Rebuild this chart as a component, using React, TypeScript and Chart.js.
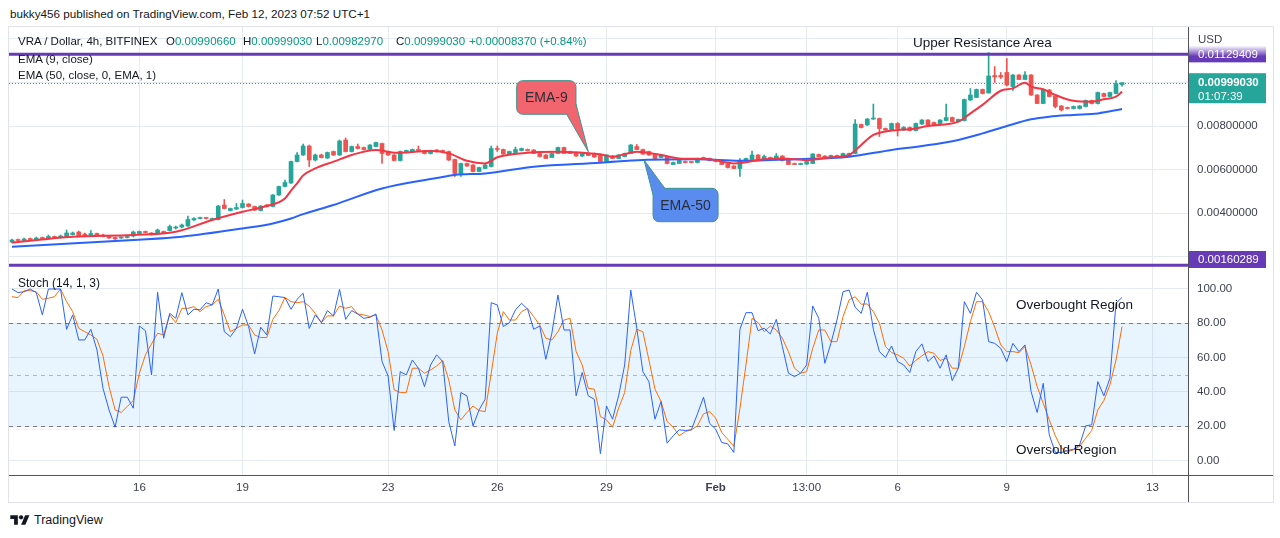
import React, { useEffect, useRef } from "react";
import { Chart, registerables } from "chart.js";
Chart.register(...registerables);

const FONT = "'Liberation Sans', Arial, Helvetica, sans-serif";
const TEXT = "#131722";
const AXIS_TEXT = "#3e4250";
const GRID = "#e6ebf1";
const UP = "#26a69a";
const DOWN = "#ef5350";
const PURPLE = "#673ab7";
const AXIS_LINE = "#50535e";

// ---- candle data (4h bars, index 0..183) ----
const openP = [
0.002666,0.002758,0.002735,0.002804,0.002781,0.002850,0.002827,0.002919,0.002873,0.002919,
0.003011,0.003126,0.003034,0.002988,0.003057,0.002988,0.002919,0.002873,0.002850,0.002873,
0.002942,0.003057,0.003126,0.003080,0.003057,0.003149,0.003195,0.003310,0.003356,0.003402,
0.003678,0.003747,0.003770,0.003701,0.003701,0.004367,0.004114,0.004183,0.004252,0.004413,
0.004298,0.004114,0.004367,0.004298,0.004827,0.005218,0.005379,0.006367,0.006666,0.007080,
0.006436,0.006666,0.006528,0.006827,0.006666,0.007356,0.006827,0.007057,0.007011,0.006919,
0.007057,0.007195,0.006827,0.006666,0.006413,0.006827,0.006827,0.006919,0.006873,0.006735,
0.006896,0.006850,0.006827,0.006459,0.005815,0.006275,0.006206,0.005907,0.006045,0.006137,
0.006942,0.006919,0.006712,0.006781,0.006873,0.006919,0.006896,0.006735,0.006666,0.006551,
0.006735,0.007011,0.006827,0.006781,0.006620,0.006735,0.006735,0.006666,0.006367,0.006620,
0.006505,0.006597,0.006735,0.007057,0.006919,0.006827,0.006712,0.006551,0.006597,0.006229,
0.006275,0.006367,0.006344,0.006321,0.006551,0.006505,0.006459,0.006413,0.006252,0.006160,
0.006045,0.006436,0.006459,0.006666,0.006505,0.006551,0.006505,0.006620,0.006436,0.006275,
0.006229,0.006252,0.006275,0.006689,0.006620,0.006551,0.006643,0.006597,0.006620,0.006735,
0.008069,0.008046,0.008321,0.008344,0.007885,0.007816,0.008115,0.007816,0.007931,0.007793,
0.008091,0.008275,0.008161,0.008115,0.008252,0.008390,0.008206,0.008252,0.009195,0.009310,
0.009678,0.009517,0.010322,0.010322,0.010460,0.009816,0.010345,0.010138,0.010345,0.009425,
0.009034,0.009655,0.009379,0.008919,0.008850,0.008804,0.008804,0.008896,0.009172,0.009034,
0.009494,0.009356,0.009494,0.0099066];

const highP = [
0.002804,0.002804,0.002850,0.002850,0.002896,0.002896,0.002988,0.002942,0.002988,0.003218,
0.003126,0.003172,0.003080,0.003195,0.003080,0.003034,0.002942,0.002896,0.002896,0.002942,
0.003172,0.003172,0.003172,0.003103,0.003264,0.003172,0.003448,0.003402,0.003494,0.003862,
0.003793,0.003816,0.003793,0.003770,0.004344,0.004620,0.004229,0.004436,0.004597,0.004436,
0.004321,0.004344,0.004390,0.004850,0.005241,0.005517,0.006390,0.006781,0.007172,0.007126,
0.006712,0.006712,0.006804,0.006850,0.007356,0.007448,0.007080,0.007172,0.007034,0.007149,
0.007264,0.007218,0.006850,0.006689,0.006850,0.006896,0.006942,0.007080,0.006873,0.006896,
0.006919,0.006896,0.006850,0.006482,0.006298,0.006298,0.006229,0.006114,0.006252,0.007080,
0.007080,0.006942,0.006850,0.007034,0.006988,0.006942,0.006919,0.006758,0.006689,0.006758,
0.007034,0.007034,0.006850,0.006804,0.006758,0.006758,0.006758,0.006689,0.006689,0.006643,
0.006689,0.006758,0.007149,0.007149,0.006942,0.006850,0.006735,0.006689,0.006620,0.006344,
0.006436,0.006390,0.006367,0.006528,0.006574,0.006528,0.006482,0.006413,0.006275,0.006183,
0.006505,0.006528,0.006850,0.006689,0.006666,0.006574,0.006735,0.006643,0.006459,0.006298,
0.006298,0.006390,0.006735,0.006712,0.006643,0.006666,0.006666,0.006758,0.006758,0.008298,
0.008091,0.008344,0.009011,0.008367,0.007908,0.008138,0.008161,0.007977,0.007954,0.008138,
0.008298,0.008298,0.008184,0.008298,0.009011,0.008413,0.008321,0.009241,0.009724,0.009701,
0.009701,0.011379,0.010735,0.010460,0.011103,0.010368,0.010368,0.010506,0.010368,0.009448,
0.009678,0.009678,0.009402,0.008942,0.008873,0.008919,0.008942,0.009195,0.009195,0.009563,
0.009517,0.009563,0.010092,0.0099903];

const lowP = [
0.002620,0.002712,0.002712,0.002758,0.002758,0.002804,0.002804,0.002850,0.002850,0.002896,
0.002988,0.002942,0.002919,0.002942,0.002965,0.002896,0.002827,0.002781,0.002827,0.002850,
0.002896,0.003034,0.003080,0.002988,0.003034,0.003057,0.003172,0.003264,0.003310,0.003379,
0.003655,0.003724,0.003724,0.003678,0.003678,0.004183,0.004091,0.004160,0.004229,0.004275,
0.004114,0.004091,0.004275,0.004275,0.004804,0.005195,0.005356,0.006344,0.006643,0.006137,
0.006390,0.006528,0.006505,0.006643,0.006643,0.006804,0.006804,0.006942,0.006896,0.006896,
0.007034,0.006275,0.006643,0.006390,0.006390,0.006781,0.006804,0.006850,0.006712,0.006712,
0.006804,0.006804,0.006413,0.005678,0.005678,0.006137,0.005884,0.005884,0.006045,0.006114,
0.006827,0.006689,0.006689,0.006758,0.006850,0.006850,0.006735,0.006574,0.006505,0.006551,
0.006735,0.006735,0.006735,0.006597,0.006597,0.006643,0.006551,0.006344,0.006344,0.006505,
0.006505,0.006574,0.006735,0.006919,0.006689,0.006643,0.006436,0.006551,0.006252,0.006229,
0.006275,0.006298,0.006298,0.006298,0.006459,0.006390,0.006344,0.006229,0.006068,0.006045,
0.005678,0.006413,0.006459,0.006459,0.006505,0.006459,0.006482,0.006390,0.006229,0.006229,
0.006229,0.006229,0.006275,0.006574,0.006505,0.006551,0.006574,0.006574,0.006597,0.006735,
0.007908,0.008023,0.008298,0.007517,0.007793,0.007793,0.007540,0.007793,0.007770,0.007770,
0.008069,0.008023,0.008023,0.008091,0.008229,0.008206,0.008183,0.008229,0.009172,0.009310,
0.009471,0.009517,0.010000,0.010184,0.009839,0.009632,0.010138,0.010138,0.009402,0.009034,
0.009034,0.009333,0.008827,0.008689,0.008781,0.008781,0.008781,0.008873,0.009011,0.009011,
0.009333,0.009333,0.009471,0.0098297];

const closeP = [
0.002758,0.002735,0.002804,0.002781,0.002850,0.002827,0.002919,0.002873,0.002942,0.003080,
0.003080,0.002965,0.002965,0.003057,0.002988,0.002919,0.002850,0.002804,0.002873,0.002919,
0.003126,0.003149,0.003103,0.003011,0.003218,0.003080,0.003379,0.003356,0.003448,0.003701,
0.003747,0.003770,0.003747,0.003747,0.004321,0.004206,0.004206,0.004252,0.004436,0.004298,
0.004137,0.004321,0.004298,0.004827,0.005218,0.005402,0.006367,0.006666,0.007080,0.006436,
0.006666,0.006551,0.006781,0.006666,0.007310,0.006827,0.007057,0.006965,0.006919,0.007126,
0.007241,0.006735,0.006666,0.006413,0.006827,0.006850,0.006919,0.006873,0.006735,0.006873,
0.006827,0.006827,0.006436,0.005815,0.006275,0.006160,0.005907,0.006091,0.006206,0.006965,
0.006919,0.006712,0.006827,0.006919,0.006965,0.006873,0.006735,0.006597,0.006505,0.006735,
0.007011,0.006735,0.006735,0.006620,0.006735,0.006643,0.006574,0.006367,0.006666,0.006505,
0.006666,0.006735,0.007126,0.006919,0.006712,0.006666,0.006505,0.006666,0.006275,0.006321,
0.006413,0.006321,0.006321,0.006505,0.006459,0.006413,0.006367,0.006229,0.006091,0.006045,
0.006413,0.006505,0.006666,0.006459,0.006597,0.006459,0.006620,0.006413,0.006229,0.006229,
0.006275,0.006367,0.006712,0.006597,0.006505,0.006643,0.006597,0.006735,0.006735,0.008092,
0.007931,0.008321,0.008344,0.007885,0.007816,0.008115,0.007885,0.007931,0.007793,0.008115,
0.008275,0.008046,0.008046,0.008275,0.008390,0.008206,0.008298,0.009218,0.009425,0.009678,
0.009494,0.010299,0.010253,0.010253,0.009885,0.010345,0.010138,0.010345,0.009425,0.009034,
0.009655,0.009356,0.008896,0.008735,0.008804,0.008896,0.008919,0.009172,0.009034,0.009540,
0.009356,0.009540,0.009954,0.0099903];

// ---- EMA readings (bar index -> value) ----
const ema9Idx = [0,10,20,27,33,38,42,45,46,47,48,50,53,56,60,63,69,72,75,78,80,85,90,97,99,103,107,110,115,119,124,127,131,135,138,140,142,146,148,151,156,158,160,163,165,167,168,170,172,175,178,180,182,183];
const ema9Val = [0.00264,0.00291,0.00299,0.00314,0.00368,0.00406,0.00432,0.00467,0.00503,0.00536,0.00573,0.00605,0.00636,0.00667,0.00690,0.00677,0.00685,0.00674,0.00640,0.00628,0.00656,0.00677,0.00682,0.00670,0.00659,0.00682,0.00667,0.00651,0.00647,0.00628,0.00647,0.00651,0.00644,0.00656,0.00667,0.00713,0.00759,0.00782,0.00785,0.00800,0.00820,0.00858,0.00897,0.00962,0.00973,0.00999,0.00981,0.00969,0.00943,0.00916,0.00912,0.00923,0.00935,0.00958];
const ema50Idx = [0,20,28,38,43,46,48,53,61,70,73,78,86,97,104,113,120,129,138,145,150,156,160,164,168,171,175,179,183];
const ema50Val = [0.00245,0.00276,0.00291,0.00329,0.00352,0.00375,0.00395,0.00437,0.00513,0.00561,0.00575,0.00582,0.00613,0.00631,0.00644,0.00647,0.00640,0.00647,0.00659,0.00690,0.00708,0.00736,0.00766,0.00800,0.00831,0.00843,0.00851,0.00858,0.00878];

// ---- Stochastic (14,1,3) ----
const stochK = [
100,97.9,98.4,100,97.9,84.9,100,100,100,76.5,
84.9,70.3,70.3,76.5,64.5,42.1,29.5,19.4,36.9,36.9,
30.5,78.4,75.7,49.9,98.1,71.3,85.8,82.9,97.9,84.9,
88.2,87.8,92,90.7,100,75.1,72.2,77.1,88.2,78.1,
62.1,77.7,73.2,95.9,95.5,95,88.2,94,97.5,77,
84.9,80.4,87.4,84.3,99.8,82.3,87.4,85.4,82.9,83.5,
85.4,57.7,49.3,17.5,51.8,49.9,58.6,53.8,43.1,55.7,
61.6,57.7,22.7,8.5,39.6,37.7,20.2,29.5,35.7,92,
90.7,78.1,80.4,87.8,91.7,88.2,76.5,78.4,59,74.2,
96.5,76.1,76.1,37.7,51.3,37.7,35.7,4,31.8,24.1,
37.7,55.7,99.4,77.1,51.8,46,24.1,34.4,10.1,14.4,
17.9,17.5,17.9,27.2,36.9,21.7,18.3,10.5,9.7,4.7,
76.5,86.2,86.2,75.7,77.1,73.8,82.3,66.4,50.9,48.9,
50.9,55.7,90.1,82.9,56.7,68.3,81.9,98.4,99.4,89.3,
85.8,98.1,76.5,63.5,60,66.8,57.7,55.7,51.3,63.5,
68,57.7,61,53.8,61.6,46.6,53.8,92.6,85.8,98.1,
93.6,69.3,68.3,65.4,57.7,68.3,63.5,67.4,40.2,28,
45,15,4.7,4.7,5.8,6.6,9.1,20.2,20.8,46,
37.7,48,91.7,95.1];
const stochD = [
95.5,95,99,99,98.4,94,94.6,95.5,100,92.6,
86.8,77.1,75.1,73.2,70.7,61,43.1,29.5,28,31.5,
35,50.9,61.6,68,74.2,73.2,84.9,80.4,88.7,88.7,
89.7,86.8,89.7,90.7,94,84.9,75.1,77.1,79,79,
73.2,71.7,71.7,82.3,87.4,95,92.6,92,92.6,90,
85.8,80.4,84.3,84.3,90.1,88.7,89.7,85.4,84.9,83.9,
84.9,76.1,63.5,41.2,39.6,39.6,53.8,53.8,50.9,52.8,
55.1,58.3,47,29.5,23.7,28,31.8,29.1,28.5,50.9,
74.2,86.8,81.9,81.9,86.8,88.7,83.9,79,71.3,70.3,
75.1,81.9,82.9,63.5,55.7,42.1,41.6,25.6,23.7,19.4,
30.5,39.6,64.1,76.5,75.1,58.6,41.6,34.4,22.7,19.4,
14.4,16.9,17.9,20.2,27.2,28.5,24.7,16.3,12.4,8.2,
30.3,55.8,82.9,80.4,75.1,78.4,76.1,71.3,63.5,53.8,
50.9,51.8,65.4,76.1,76.1,69.3,69.3,83.9,93.6,95.5,
91.1,91.3,86.8,80,66.4,62.9,61.6,59.6,55.1,58.3,
61,63.5,62.5,58.3,59.6,53.8,53.8,66.4,81,92.6,
92.6,86.8,77.7,67.4,63.5,63.5,62.9,66.4,55.7,43.1,
33.4,23.7,14.4,7.2,5.2,6.2,8.2,13,17.5,29.5,
35,44.1,58.6,78.1];

// ---- axes / ticks ----
const xTickIdx = [21, 38, 62, 80, 98, 116, 131, 146, 164, 188];
const xTickLabels = ["16", "19", "23", "26", "29", "Feb", "13:00", "6", "9", "13"];
const priceTicks = [0.002, 0.004, 0.006, 0.008, 0.01, 0.012];
const stochTicks = [0, 20, 40, 60, 80, 100];
const stochLevels = [20, 50, 80];
const resistanceLevel = 0.01129409;
const supportLevel = 0.00160289;
const lastClose = 0.0099903;
const countdown = "01:07:39";

// annotation anchors: [bar index, price]
const callouts = [
  { text: "EMA-9", idx: 95, price: 0.00682, fill: "#f2646e", box: [-71.6, -71, 59.3, 33.6], tail: [[-21.6, -37.4], [-12.3, -47.7]] },
  { text: "EMA-50", idx: 104.2, price: 0.006436, fill: "#5a8cf0", box: [9, 28.3, 65, 33.4], tail: [[9, 35], [20.7, 28.3]] },
];

const X_MIN = -0.495, X_MAX = 193.87;
const P_MIN = 0.0014713, P_MAX = 0.0125517;
const S_MIN = -8.45, S_MAX = 112.24;

const zeroPad = (s: any) => { s.paddingTop = 0; s.paddingBottom = 0; s.paddingLeft = 0; s.paddingRight = 0; };

function drawCallout(ctx: CanvasRenderingContext2D, tx: number, ty: number, c: any) {
  const [bx, by, bw, bh] = c.box;
  const L = tx + bx, T = ty + by;
  ctx.lineWidth = 1;
  ctx.strokeStyle = "#3a948f";
  ctx.fillStyle = c.fill;
  ctx.beginPath();
  (ctx as any).roundRect(L, T, bw, bh, 6);
  ctx.fill();
  ctx.stroke();
  const [[p1x, p1y], [p2x, p2y]] = c.tail;
  ctx.beginPath();
  ctx.moveTo(tx + p1x, ty + p1y);
  ctx.lineTo(tx, ty);
  ctx.lineTo(tx + p2x, ty + p2y);
  ctx.closePath();
  ctx.fill();
  ctx.beginPath();
  ctx.moveTo(tx + p1x, ty + p1y);
  ctx.lineTo(tx, ty);
  ctx.lineTo(tx + p2x, ty + p2y);
  ctx.stroke();
  ctx.fillStyle = "#2a2e39";
  ctx.font = `14px ${FONT}`;
  ctx.textAlign = "center";
  ctx.textBaseline = "middle";
  ctx.fillText(c.text, L + bw / 2, T + bh / 2 + 1);
}

const priceOverlay = {
  id: "priceOverlay",
  beforeDatasetsDraw(chart: any) {
    const { ctx, chartArea: a, scales } = chart;
    const yc = Math.round(scales.y.getPixelForValue(lastClose)) + 0.5;
    ctx.save();
    ctx.strokeStyle = UP;
    ctx.lineWidth = 1;
    ctx.setLineDash([1, 2]);
    ctx.beginPath();
    ctx.moveTo(a.left, yc);
    ctx.lineTo(a.right, yc);
    ctx.stroke();
    ctx.restore();
  },
  afterDatasetsDraw(chart: any) {
    const { ctx, chartArea: a, scales } = chart;
    const { x, y } = scales;
    ctx.save();
    for (const lv of [resistanceLevel, supportLevel]) {
      const py = y.getPixelForValue(lv);
      ctx.strokeStyle = PURPLE;
      ctx.lineWidth = 3;
      ctx.beginPath();
      ctx.moveTo(a.left, py);
      ctx.lineTo(a.right, py);
      ctx.stroke();
    }
    for (const c of callouts) drawCallout(ctx, x.getPixelForValue(c.idx), y.getPixelForValue(c.price), c);
    ctx.restore();
  },
  afterDraw(chart: any) {
    const { ctx, chartArea: a, scales } = chart;
    const y = scales.y;
    const ax = a.right + 1;
    const bw = 77;
    const tx = a.right + 10;
    ctx.save();
    ctx.textAlign = "left";
    ctx.textBaseline = "middle";
    // resistance label (partly faded under the "USD" caption)
    const pr = y.getPixelForValue(resistanceLevel);
    ctx.fillStyle = PURPLE;
    ctx.fillRect(ax, pr - 8, bw, 16);
    ctx.fillStyle = "#ffffff";
    ctx.font = `11.5px ${FONT}`;
    ctx.fillText(resistanceLevel.toFixed(8), tx, pr);
    const g = ctx.createLinearGradient(0, pr - 12, 0, pr + 2);
    g.addColorStop(0, "rgba(255,255,255,1)");
    g.addColorStop(0.35, "rgba(255,255,255,0.85)");
    g.addColorStop(1, "rgba(255,255,255,0)");
    ctx.fillStyle = g;
    ctx.fillRect(ax, pr - 12, bw, 14);
    ctx.fillStyle = AXIS_TEXT;
    ctx.fillText("USD", tx, a.top + 13);
    // last price label
    const pc = y.getPixelForValue(lastClose);
    ctx.fillStyle = UP;
    ctx.fillRect(ax, pc - 9.5, bw, 30);
    ctx.fillStyle = "#ffffff";
    ctx.font = `bold 11.5px ${FONT}`;
    ctx.fillText(lastClose.toFixed(8), tx, pc);
    ctx.font = `11.5px ${FONT}`;
    ctx.fillText(countdown, tx, pc + 14);
    // support label
    const ps = y.getPixelForValue(supportLevel);
    const top = Math.min(ps - 8.5, a.bottom - 17);
    ctx.fillStyle = PURPLE;
    ctx.fillRect(ax, top, bw, 17);
    ctx.fillStyle = "#ffffff";
    ctx.fillText(supportLevel.toFixed(8), tx, top + 8.5);
    ctx.restore();
  },
};

const stochOverlay = {
  id: "stochOverlay",
  beforeDatasetsDraw(chart: any) {
    const { ctx, chartArea: a, scales } = chart;
    const y = scales.y;
    const yHi = y.getPixelForValue(stochLevels[2]);
    const yLo = y.getPixelForValue(stochLevels[0]);
    ctx.save();
    ctx.fillStyle = "rgba(33,150,243,0.1)";
    ctx.fillRect(a.left, yHi, a.right - a.left, yLo - yHi);
    ctx.lineWidth = 1;
    ctx.setLineDash([4, 4]);
    stochLevels.forEach((lv) => {
      const py = Math.round(y.getPixelForValue(lv)) + 0.5;
      ctx.strokeStyle = lv === 50 ? "rgba(120,123,134,0.5)" : "#787b86";
      ctx.beginPath();
      ctx.moveTo(a.left, py);
      ctx.lineTo(a.right, py);
      ctx.stroke();
    });
    ctx.restore();
  },
};

function priceConfig(): any {
  const idx = closeP.map((_, i) => i);
  const colors = closeP.map((c, i) => (c >= openP[i] ? UP : DOWN));
  return {
    type: "bar",
    data: {
      datasets: [
        { type: "line", data: ema9Idx.map((v, i) => ({ x: v, y: ema9Val[i] })), borderColor: "#f23645", borderWidth: 2, pointRadius: 0, cubicInterpolationMode: "monotone" },
        { type: "line", data: ema50Idx.map((v, i) => ({ x: v, y: ema50Val[i] })), borderColor: "#2962ff", borderWidth: 2, pointRadius: 0, cubicInterpolationMode: "monotone" },
        { type: "bar", data: idx.map((i) => ({ x: i, y: [openP[i], closeP[i]] })), backgroundColor: colors, borderWidth: 0, barThickness: 4, minBarLength: 1, grouped: false },
        { type: "bar", data: idx.map((i) => ({ x: i, y: [lowP[i], highP[i]] })), backgroundColor: colors, borderWidth: 0, barThickness: 1, grouped: false },
      ],
    },
    options: {
      animation: false,
      responsive: false,
      devicePixelRatio: 1,
      events: [],
      layout: { padding: 0 },
      plugins: { legend: { display: false }, tooltip: { enabled: false } },
      scales: {
        x: {
          type: "linear", min: X_MIN, max: X_MAX, offset: false,
          afterBuildTicks: (s: any) => { s.ticks = xTickIdx.map((v) => ({ value: v })); },
          ticks: { display: false },
          grid: { color: GRID, drawTicks: false, offset: false },
          border: { display: false },
          afterFit: (s: any) => { s.height = 0; zeroPad(s); },
        },
        y: {
          type: "linear", position: "right", min: P_MIN, max: P_MAX,
          afterBuildTicks: (s: any) => { s.ticks = priceTicks.map((v) => ({ value: v })); },
          ticks: { padding: 9, color: AXIS_TEXT, font: { size: 11.5, family: FONT }, callback: (v: any) => (v === 0.012 ? "" : Number(v).toFixed(8)) },
          grid: { color: GRID, drawTicks: false },
          border: { display: true, color: AXIS_LINE, width: 1 },
          afterFit: (s: any) => { s.width = 85; zeroPad(s); },
        },
      },
    },
    plugins: [priceOverlay],
  };
}

function stochConfig(): any {
  const febIdx = xTickIdx[xTickLabels.indexOf("Feb")];
  return {
    type: "line",
    data: {
      datasets: [
        { data: stochK.map((v, i) => ({ x: i, y: v })), borderColor: "#2962ff", borderWidth: 1, pointRadius: 0, tension: 0 },
        { data: stochD.map((v, i) => ({ x: i, y: v })), borderColor: "#ff6d00", borderWidth: 1, pointRadius: 0, tension: 0 },
      ],
    },
    options: {
      animation: false,
      responsive: false,
      devicePixelRatio: 1,
      events: [],
      layout: { padding: 0 },
      plugins: { legend: { display: false }, tooltip: { enabled: false } },
      scales: {
        x: {
          type: "linear", min: X_MIN, max: X_MAX, offset: false,
          afterBuildTicks: (s: any) => { s.ticks = xTickIdx.map((v) => ({ value: v })); },
          ticks: {
            autoSkip: false, maxRotation: 0, padding: 6, color: AXIS_TEXT,
            font: (c: any) => ({ family: FONT, size: 11.5, weight: c.tick && c.tick.value === febIdx ? "bold" : "normal" }),
            callback: (v: any) => xTickLabels[xTickIdx.indexOf(v)] ?? "",
          },
          grid: { color: GRID, drawTicks: false },
          border: { display: true, color: AXIS_LINE, width: 1 },
          afterFit: (s: any) => { s.height = 27; zeroPad(s); },
        },
        y: {
          type: "linear", position: "right", min: S_MIN, max: S_MAX,
          afterBuildTicks: (s: any) => { s.ticks = stochTicks.map((v) => ({ value: v })); },
          ticks: { padding: 9, color: AXIS_TEXT, font: { size: 11.5, family: FONT }, callback: (v: any) => Number(v).toFixed(2) },
          grid: { color: GRID, drawTicks: false },
          border: { display: true, color: AXIS_LINE, width: 1 },
          afterFit: (s: any) => { s.width = 85; zeroPad(s); },
        },
      },
    },
    plugins: [stochOverlay],
  };
}

const abs = (left: number, top: number, extra: any = {}): any => ({ position: "absolute", left, top, whiteSpace: "nowrap", lineHeight: "16px", ...extra });

export default function App() {
  const c1 = useRef<HTMLCanvasElement>(null);
  const c2 = useRef<HTMLCanvasElement>(null);
  useEffect(() => {
    Chart.defaults.font.family = FONT;
    Chart.defaults.color = AXIS_TEXT;
    const ch1 = new Chart(c1.current as HTMLCanvasElement, priceConfig());
    const ch2 = new Chart(c2.current as HTMLCanvasElement, stochConfig());
    return () => { ch1.destroy(); ch2.destroy(); };
  }, []);
  const val = { color: "#089981" };
  const leg = { fontSize: 11.5 };
  return (
    <div style={{ position: "fixed", left: 0, top: 0, width: 1280, height: 538, background: "#fff", overflow: "hidden", fontFamily: FONT, color: TEXT }}>
      <div style={abs(10, 6, { fontSize: 11.7 })}>bukky456 published on TradingView.com, Feb 12, 2023 07:52 UTC+1</div>
      <div style={{ position: "absolute", left: 8, top: 26, width: 1266, height: 477, border: "1px solid #e0e3eb", boxSizing: "border-box" }} />
      <canvas ref={c1} width={1264} height={241} style={{ position: "absolute", left: 9, top: 27, display: "block" }} />
      <canvas ref={c2} width={1264} height={234} style={{ position: "absolute", left: 9, top: 268, display: "block" }} />
      <div style={{ position: "absolute", left: 1188, top: 475, width: 1, height: 27, background: AXIS_LINE }} />
      <div style={{ position: "absolute", left: 1188, top: 475, width: 85, height: 1, background: AXIS_LINE }} />

      <div style={abs(18, 33, leg)}>VRA / Dollar, 4h, BITFINEX</div>
      <div style={abs(166, 33, leg)}>O<span style={val}>0.00990660</span></div>
      <div style={abs(243, 33, leg)}>H<span style={val}>0.00999030</span></div>
      <div style={abs(316, 33, leg)}>L<span style={val}>0.00982970</span></div>
      <div style={abs(396, 33, leg)}>C<span style={val}>0.00999030</span></div>
      <div style={abs(469, 33, { ...leg, ...val })}>+0.00008370 (+0.84%)</div>
      <div style={abs(18, 51, leg)}>EMA (9, close)</div>
      <div style={abs(18, 67, leg)}>EMA (50, close, 0, EMA, 1)</div>
      <div style={abs(913, 35, { fontSize: 13.5 })}>Upper Resistance Area</div>

      <div style={abs(18, 275, { fontSize: 12 })}>Stoch (14, 1, 3)</div>
      <div style={abs(1016, 297, { fontSize: 13.5 })}>Overbought Region</div>
      <div style={abs(1016, 442, { fontSize: 13.5 })}>Oversold Region</div>

      <div style={abs(10, 512, { display: "flex", alignItems: "center", fontSize: 12.5 })}>
        <svg width="20" height="14" viewBox="0 0 36 26" style={{ marginRight: 4 }}>
          <path d="M14 22H7V11H0V4h14v18z" fill="#131722" />
          <circle cx="20" cy="8" r="4" fill="#131722" />
          <path d="M28 22h-8l7.5-18h8z" fill="#131722" />
        </svg>
        <span>TradingView</span>
      </div>
    </div>
  );
}
